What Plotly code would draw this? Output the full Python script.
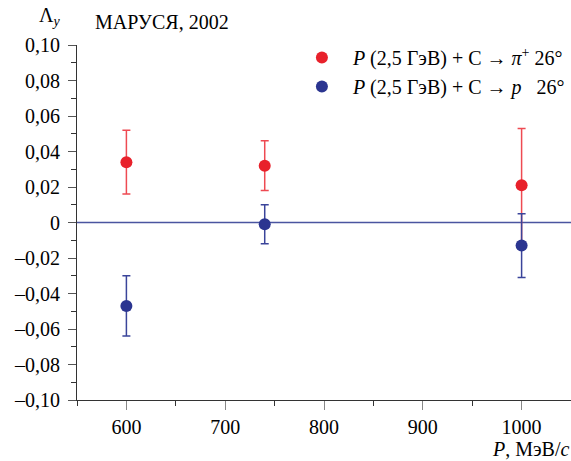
import plotly.graph_objects as go

# Data
momentum = [600, 740, 1000]
pi_vals = [0.034, 0.032, 0.021]
pi_errs = [0.018, 0.014, 0.032]
p_vals = [-0.047, -0.001, -0.013]
p_errs = [0.017, 0.011, 0.018]

y_tickvals = [0.10, 0.08, 0.06, 0.04, 0.02, 0, -0.02, -0.04, -0.06, -0.08, -0.10]
y_ticktext = ["0,10", "0,08", "0,06", "0,04", "0,02", "0", "–0,02", "–0,04", "–0,06", "–0,08", "–0,10"]
x_tickvals = [600, 700, 800, 900, 1000]

RED = "#e8212b"
BLUE = "#2b3590"
FONT = "Liberation Serif"

fig = go.Figure()
fig.add_trace(go.Scatter(
    x=momentum, y=pi_vals, mode="markers",
    name="<i>P</i> (2,5 ГэВ) + C → <i>π</i><sup>+</sup> 26°",
    marker=dict(color=RED, size=12),
    error_y=dict(type="data", array=pi_errs, color="#ee4a52", thickness=1.5, width=4),
))
fig.add_trace(go.Scatter(
    x=momentum, y=p_vals, mode="markers",
    name="<i>P</i> (2,5 ГэВ) + C → <i>p</i>\u00a0\u00a0\u00a026°",
    marker=dict(color=BLUE, size=12),
    error_y=dict(type="data", array=p_errs, color="#3a449a", thickness=1.5, width=4),
))

fig.add_shape(type="line", xref="paper", yref="y", x0=0, x1=1, y0=0, y1=0,
              line=dict(color="#4a55a0", width=1.5), layer="below")

fig.update_layout(
    width=571, height=461,
    margin=dict(l=77, r=0, t=45, b=61),
    paper_bgcolor="white", plot_bgcolor="white",
    font=dict(family=FONT, size=20, color="black"),
    showlegend=True,
    legend=dict(x=0.433, xanchor="left", y=1.02, yanchor="top",
                font=dict(family=FONT, size=20), bgcolor="rgba(0,0,0,0)",
                itemwidth=52, itemsizing="constant"),
    xaxis=dict(range=[550, 1050], tickvals=x_tickvals, showgrid=False, zeroline=False,
               showline=True, linecolor="#333", linewidth=1.2,
               ticks="outside", ticklen=9, tickcolor="#888", tickwidth=1.2,
               minor=dict(dtick=50, ticks="outside", ticklen=5, tickcolor="#333", showgrid=False),
               tickfont=dict(family=FONT, size=20)),
    yaxis=dict(range=[-0.10, 0.10], tickvals=y_tickvals, ticktext=y_ticktext,
               showgrid=False, zeroline=False,
               showline=True, linecolor="#333", linewidth=1.2,
               ticks="outside", ticklen=8, tickcolor="#555", tickwidth=1.2,
               ticklabelstandoff=4,
               minor=dict(tickvals=[0.09, 0.07, 0.05, 0.03, 0.01, -0.01, -0.03, -0.05, -0.07, -0.09],
                          ticks="outside", ticklen=5, tickcolor="#333", showgrid=False),
               tickfont=dict(family=FONT, size=20)),
    annotations=[
        dict(text="Λ<sub><i>y</i></sub>", xref="paper", yref="paper", x=-0.055, y=1.079,
             xanchor="center", yanchor="middle", showarrow=False, font=dict(family=FONT, size=20)),
        dict(text="МАРУСЯ, 2002", xref="paper", yref="paper", x=0.032, y=1.065,
             xanchor="left", yanchor="middle", showarrow=False, font=dict(family=FONT, size=20)),
        dict(text="<i>P</i>, МэВ/<i>c</i>", xref="paper", yref="paper", x=1.0, y=-0.138,
             xanchor="right", yanchor="middle", showarrow=False, font=dict(family=FONT, size=20)),
    ],
)

fig.write_html("out.html", config={"displayModeBar": False},
               post_script="document.body.style.margin='0px';")
